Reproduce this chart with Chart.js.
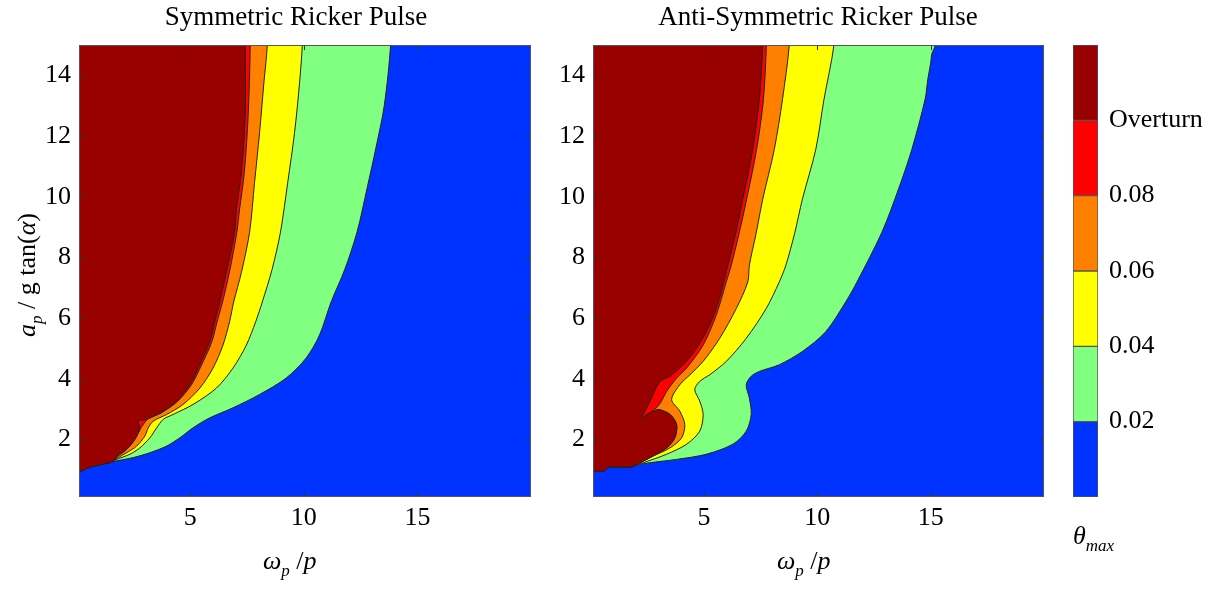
<!DOCTYPE html>
<html lang="en">
<head>
<meta charset="UTF-8">
<title>Ricker Pulse</title>
<script src="https://cdn.jsdelivr.net/npm/chart.js"></script>
<style>
  body { margin: 0; width: 1222px; height: 590px; position: relative; overflow: hidden; background: #fff;
         font-family: 'Liberation Serif', 'DejaVu Serif', serif; color: #000; }
  .wrap { position: absolute; top: 0; }
  .lbl { position: absolute; font-size: 26px; line-height: 1; white-space: nowrap; }
  .sb { font-size: 17px; position: relative; top: 7px; }
</style>
</head>
<body>

<div class="wrap" style="left:0; width:560px; height:590px;"><canvas id="symChart" width="560" height="590"></canvas></div>
<div class="wrap" style="left:540px; width:530px; height:590px;"><canvas id="antiChart" width="530" height="590"></canvas></div>
<div class="wrap" style="left:1060px; width:162px; height:590px;"><canvas id="barChart" width="162" height="590"></canvas></div>

<div class="lbl" style="left:296px; top:3px; font-size:27px; transform:translateX(-50%);">Symmetric Ricker Pulse</div>
<div class="lbl" style="left:818px; top:3px; font-size:27px; transform:translateX(-50%);">Anti-Symmetric Ricker Pulse</div>
<div class="lbl" style="left:27px; top:275px; transform:translate(-50%,-50%) rotate(-90deg);"><i>a</i><i class="sb">p</i> / g tan(<i>α</i>)</div>
<div class="lbl" style="left:263px; top:548px;"><i>ω</i><i class="sb">p</i> /<i>p</i></div>
<div class="lbl" style="left:777px; top:548px;"><i>ω</i><i class="sb">p</i> /<i>p</i></div>
<div class="lbl" style="left:1073px; top:523px;"><i>θ</i><i class="sb">max</i></div>

<script>
// axis ranges and ticks
const xRange = [0.1, 20];
const yRange = [0.1, 15];
const xTicks = [5, 10, 15];
const yTicks = [2, 4, 6, 8, 10, 12, 14];

// colour levels (low -> high) and colorbar labels
const levelColors = ['#0033ff', '#80ff80', '#ffff00', '#ff8000', '#ff0000', '#990000'];
const levelLabels = ['0.02', '0.04', '0.06', '0.08', 'Overturn'];
const levelBands = [1, 1, 1, 1, 1, 1];

// ---- Symmetric pulse: contour edges [x, y], top of plot -> meeting point ----
const symGreen = [[13.82,15],[13.54,13.0],[13.17,11.6],[12.79,10.3],[12.34,8.83],[11.8,7.6],[11.2,6.53],
  [10.69,5.44],[10.1,4.68],[9.22,4.02],[8.05,3.48],[6.88,3.04],[5.86,2.71],[5.12,2.38],[4.54,2.05],
  [3.96,1.78],[3.22,1.56],[2.49,1.4],[1.76,1.29],[1.6,1.27]];
const symYellow = [[9.93,15],[9.81,13.75],[9.59,12.11],[9.29,10.47],[8.97,8.83],[8.6,7.6],[8.17,6.53],
  [7.88,5.88],[7.47,5.11],[6.88,4.35],[6.15,3.69],[5.12,3.15],[4.24,2.82],[3.81,2.66],[3.52,2.38],
  [3.22,2.05],[2.78,1.72],[2.34,1.51],[1.83,1.36],[1.6,1.27]];
const symOrange = [[8.39,15],[8.24,13.75],[8.05,12.11],[7.83,10.47],[7.61,8.83],[7.25,7.5],[6.91,6.53],
  [6.73,5.88],[6.44,5.11],[6.0,4.35],[5.42,3.69],[4.68,3.15],[3.96,2.82],[3.37,2.6],[3.15,2.38],
  [3.0,2.11],[2.64,1.78],[2.2,1.56],[1.76,1.37],[1.6,1.27]];
const symRed = [[7.64,15],[7.55,12.7],[7.38,10.8],[7.17,9.59],[7.05,8.83],[6.72,7.5],[6.42,6.53],
  [6.18,5.88],[5.95,5.22],[5.5,4.46],[5.05,3.8],[4.45,3.26],[3.72,2.87],[3.15,2.68],[2.85,2.4],
  [2.56,2.0],[2.2,1.67],[1.76,1.42],[1.6,1.27]];
const symOverturn = [[7.42,15],[7.42,12.7],[7.25,10.8],[7.03,9.59],[6.95,8.83],[6.59,7.5],[6.3,6.53],
  [6.08,5.88],[5.86,5.22],[5.42,4.46],[4.98,3.8],[4.39,3.26],[3.66,2.87],[3.08,2.66],[2.71,2.6],
  [2.78,2.38],[2.56,2.0],[2.2,1.67],[1.76,1.42],[1.6,1.27]];
const symBase = [[0.1,0.96],[0.3,0.98],[0.45,1.05],[0.9,1.14],[1.3,1.21],[1.6,1.27]];

// ---- Anti-symmetric pulse ----
const antiGreen = [[15.2,15],[15.05,14.7],[15.0,14.4],[14.88,13.9],[14.75,13.2],[14.17,11.56],[13.58,10.25],
  [12.85,8.83],[11.75,7.19],[11.25,6.53],[10.37,5.55],[9.34,4.9],[8.32,4.46],[7.44,4.24],[7.08,4.08],
  [6.86,3.8],[7.0,3.36],[7.08,2.82],[6.86,2.27],[6.27,1.84],[5.1,1.51],[3.79,1.34],[2.32,1.2],[1.89,1.12]];
const antiYellow = [[10.73,15],[10.29,13.2],[9.93,11.56],[9.34,9.92],[9.0,8.8],[8.61,7.74],[8.32,7.19],
  [7.74,6.31],[6.86,5.33],[5.98,4.57],[5.25,4.13],[4.81,3.91],[4.59,3.64],[4.81,3.26],[4.96,2.82],
  [4.81,2.27],[4.23,1.84],[3.35,1.51],[2.32,1.23],[1.89,1.12]];
const antiOrange = [[8.76,15],[8.46,13.2],[8.1,11.56],[7.59,9.92],[7.3,8.8],[7.0,7.74],[6.93,7.19],
  [6.42,6.31],[5.69,5.33],[4.96,4.57],[4.38,4.13],[3.93,3.8],[3.57,3.31],[3.93,2.93],[4.15,2.49],
  [4.01,2.05],[3.5,1.72],[2.76,1.45],[2.04,1.18],[1.89,1.12]];
const antiRed = [[7.75,15],[7.62,13.2],[7.32,11.56],[6.88,9.92],[6.55,8.8],[6.2,7.74],[5.98,7.19],
  [5.54,6.1],[4.96,5.11],[4.23,4.35],[3.79,4.02],[3.35,3.58],[2.98,3.1],[2.45,2.8],[2.91,2.96],
  [3.06,2.97],[3.5,2.82],[3.79,2.49],[3.71,2.05],[3.35,1.72],[2.62,1.4],[1.89,1.12]];
const antiOverturn = [[7.59,15],[7.52,14.0],[7.44,13.2],[7.15,11.56],[6.71,9.92],[6.4,8.8],[6.05,7.74],
  [5.68,6.64],[5.25,5.77],[4.67,5.0],[4.08,4.46],[3.5,4.08],[3.06,3.91],[2.62,3.26],[2.32,2.82],
  [2.25,2.71],[2.47,2.82],[2.91,2.98],[3.06,2.98],[3.5,2.82],[3.79,2.49],[3.71,2.05],[3.35,1.72],
  [2.62,1.4],[1.89,1.12]];
const antiBase = [[0.1,0.96],[0.57,0.96],[0.8,1.08],[1.82,1.09],[1.89,1.12]];

const serif = 'Liberation Serif';

// region = everything up-left of an edge. It is closed through points just
// outside the axes (clipped away) so the smoothing does not bulge at the frame.
function region(edge, base) {
  const out = 1;
  const pts = [{ x: xRange[0] - out, y: yRange[1] + out }, { x: edge[0][0], y: yRange[1] + out }];
  edge.forEach(p => pts.push({ x: p[0], y: p[1] }));
  base.slice(0, -1).reverse().forEach(p => pts.push({ x: p[0], y: p[1] }));
  pts.push({ x: xRange[0] - out, y: base[0][1] });
  return pts;
}

// blue background, box and inward tick marks like matlab
const frame = {
  id: 'frame',
  beforeDraw(chart) {
    const a = chart.chartArea, ctx = chart.ctx;
    ctx.save();
    ctx.fillStyle = levelColors[0];
    ctx.fillRect(a.left, a.top, a.right - a.left, a.bottom - a.top);
    ctx.restore();
  },
  afterDatasetsDraw(chart) {
    const a = chart.chartArea, ctx = chart.ctx;
    const sx = chart.scales.x, sy = chart.scales.y;
    ctx.save();
    ctx.strokeStyle = '#333';
    ctx.lineWidth = 1;
    ctx.beginPath();
    yTicks.forEach(v => {
      const py = Math.round(sy.getPixelForValue(v)) + 0.5;
      ctx.moveTo(a.left, py); ctx.lineTo(a.left + 5, py);
      ctx.moveTo(a.right, py); ctx.lineTo(a.right - 5, py);
    });
    xTicks.forEach(v => {
      const px = Math.round(sx.getPixelForValue(v)) + 0.5;
      ctx.moveTo(px, a.bottom); ctx.lineTo(px, a.bottom - 5);
      ctx.moveTo(px, a.top); ctx.lineTo(px, a.top + 5);
    });
    ctx.stroke();
    ctx.strokeStyle = '#555';
    ctx.strokeRect(a.left + 0.5, a.top + 0.5, a.right - a.left - 1, a.bottom - a.top - 1);
    ctx.restore();
  }
};

function drawContour(tag, edges, base, yAxisW, padRight) {
  const ctx = document.getElementById(tag);
  // top layer first (chart.js paints dataset 0 last)
  const fills = [levelColors[5], levelColors[4], levelColors[3], levelColors[2], levelColors[1]];
  const datasets = edges.map((edge, i) => ({
    data: region(edge, base),
    backgroundColor: fills[i],
    borderColor: '#222',
    borderWidth: 1,
    fill: 'shape',
    pointRadius: 0,
    tension: 0.3,
    clip: 0
  }));

  new Chart(ctx, {
    type: 'line',
    data: { datasets: datasets },
    options: {
      responsive: false,
      animation: false,
      devicePixelRatio: 1,
      layout: { padding: { left: 0, top: 45, right: padRight, bottom: 53 } },
      plugins: { legend: { display: false }, tooltip: { enabled: false } },
      scales: {
        x: {
          type: 'linear', min: xRange[0], max: xRange[1],
          grid: { display: false, drawTicks: false },
          border: { display: false },
          afterBuildTicks: s => { s.ticks = xTicks.map(v => ({ value: v })); },
          afterFit: s => { s.height = 40; },
          ticks: { color: '#000', padding: 6, font: { family: serif, size: 26 } }
        },
        y: {
          type: 'linear', min: yRange[0], max: yRange[1],
          grid: { display: false, drawTicks: false },
          border: { display: false },
          afterBuildTicks: s => { s.ticks = yTicks.map(v => ({ value: v })); },
          afterFit: s => { s.width = yAxisW; },
          ticks: { color: '#000', padding: 8, font: { family: serif, size: 26 } }
        }
      }
    },
    plugins: [frame]
  });
}

drawContour('symChart', [symOverturn, symRed, symOrange, symYellow, symGreen], symBase, 79, 29);
drawContour('antiChart', [antiOverturn, antiRed, antiOrange, antiYellow, antiGreen], antiBase, 53, 26);

// colorbar: six equal stacked bands
new Chart(document.getElementById('barChart'), {
  type: 'bar',
  data: {
    labels: ['theta'],
    datasets: levelBands.map((b, i) => ({
      data: [b],
      backgroundColor: levelColors[i],
      borderColor: '#555',
      borderWidth: 1,
      borderSkipped: false,
      barPercentage: 1,
      categoryPercentage: 1
    }))
  },
  options: {
    responsive: false,
    animation: false,
    devicePixelRatio: 1,
    layout: { padding: { left: 13, top: 45, right: 0, bottom: 93 } },
    plugins: { legend: { display: false }, tooltip: { enabled: false } },
    scales: {
      x: { stacked: true, display: false },
      y: {
        stacked: true, position: 'right', min: 0, max: levelBands.length,
        grid: { display: false, drawTicks: false },
        border: { display: false },
        afterBuildTicks: s => { s.ticks = levelLabels.map((l, i) => ({ value: i + 1 })); },
        afterFit: s => { s.width = 124; },
        ticks: {
          color: '#000', padding: 11, font: { family: serif, size: 26 },
          callback: (v, i) => levelLabels[i]
        }
      }
    }
  }
});
</script>
</body>
</html>
